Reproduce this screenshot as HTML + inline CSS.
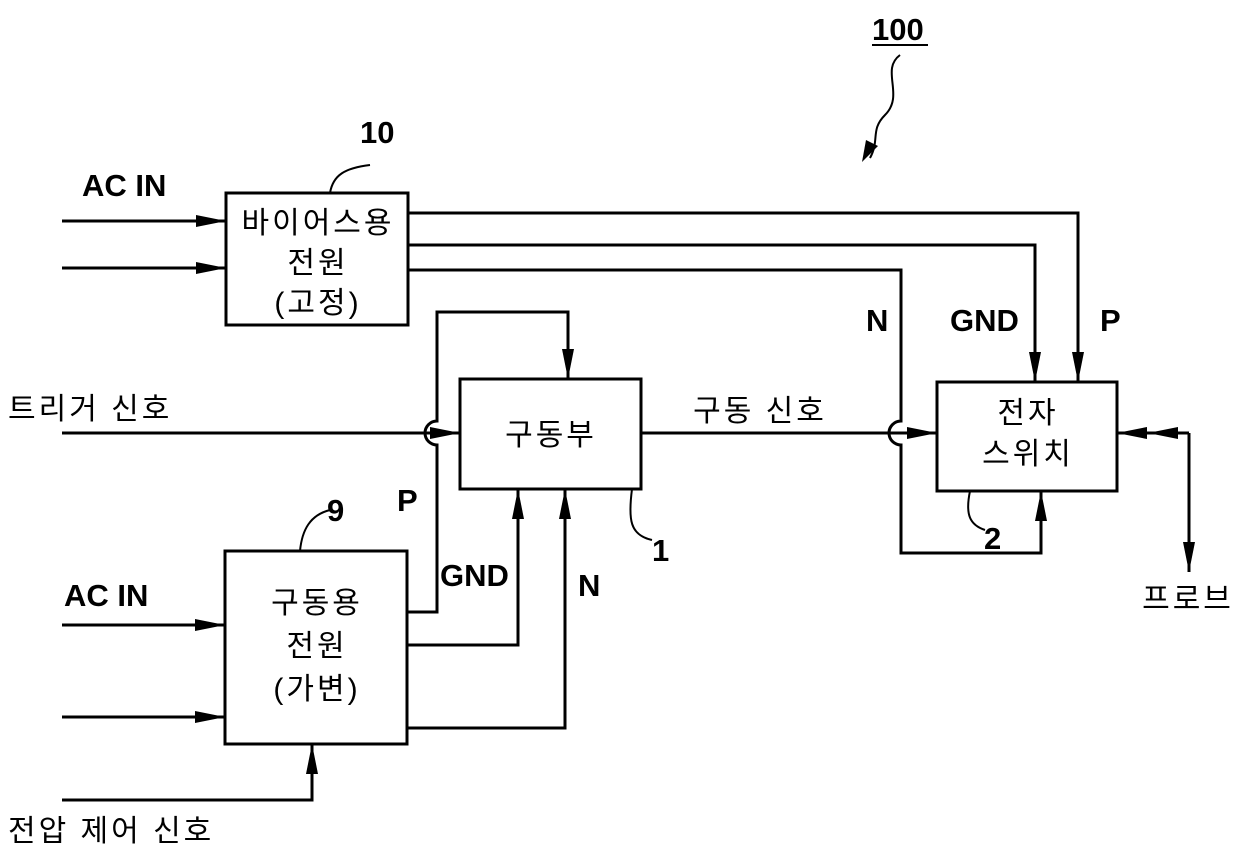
<!DOCTYPE html>
<html><head><meta charset="utf-8"><style>
html,body{margin:0;padding:0;background:#fff;}
svg text{font-family:"Liberation Sans","Noto Sans CJK KR",sans-serif;fill:#000;}
</style></head><body>
<svg width="1240" height="851" viewBox="0 0 1240 851" xmlns="http://www.w3.org/2000/svg">
<defs>
<marker id="A" markerWidth="30" markerHeight="12" refX="30" refY="6" orient="auto" markerUnits="userSpaceOnUse" viewBox="0 0 30 12">
<path d="M0,0 L30,6 L0,12 Z" fill="#000"/></marker>
</defs>
<g fill="none" stroke="#000" stroke-width="3">
<rect x="226" y="193" width="182" height="132"/>
<rect x="460" y="379" width="181" height="110"/>
<rect x="937" y="382" width="180" height="109"/>
<rect x="225" y="551" width="182" height="193"/>
<line x1="62" y1="221" x2="226" y2="221" marker-end="url(#A)"/>
<line x1="62" y1="268" x2="226" y2="268" marker-end="url(#A)"/>
<polyline points="408,213 1078,213 1078,382" marker-end="url(#A)"/>
<polyline points="408,245 1035,245 1035,382" marker-end="url(#A)"/>
<path d="M408,270 L901,270 L901,421 A12,12 0 0 0 901,445 L901,553 L1041,553 L1041,491" marker-end="url(#A)"/>
<line x1="62" y1="433" x2="460" y2="433" marker-end="url(#A)"/>
<line x1="641" y1="433" x2="937" y2="433" marker-end="url(#A)"/>
<path d="M407,612 L437,612 L437,445 A12,12 0 0 1 437,421 L437,312 L568,312 L568,379" marker-end="url(#A)"/>
<polyline points="407,645 518,645 518,489" marker-end="url(#A)"/>
<polyline points="407,728 565,728 565,489" marker-end="url(#A)"/>
<line x1="1189" y1="433" x2="1117" y2="433" marker-end="url(#A)"/>
<line x1="1189" y1="433" x2="1148" y2="433" marker-end="url(#A)"/>
<line x1="1189" y1="433" x2="1189" y2="572" marker-end="url(#A)"/>
<line x1="62" y1="625" x2="225" y2="625" marker-end="url(#A)"/>
<line x1="62" y1="717" x2="225" y2="717" marker-end="url(#A)"/>
<polyline points="62,800 312,800 312,744" marker-end="url(#A)"/>
<path stroke-width="2" d="M330,193 C333,175 345,168 370,165"/>
<path stroke-width="2" d="M300,551 C302,530 310,515 330,510"/>
<path stroke-width="2" d="M632,489 C628,520 630,535 652,540"/>
<path stroke-width="2" d="M970,491 C965,515 970,525 985,530"/>
<path stroke-width="2" d="M900,55 C880,70 905,95 885,115 C870,130 880,140 870,158"/>
<line x1="872" y1="45" x2="928" y2="45" stroke-width="2"/>
</g>
<path d="M862,162 L866,140 L878,146 Z" fill="#000"/>
<g font-size="30" text-anchor="middle" letter-spacing="3">
<text x="318" y="233">바이어스용</text>
<text x="318" y="273">전원</text>
<text x="318" y="313">(고정)</text>
<text x="551" y="445">구동부</text>
<text x="1028" y="423">전자</text>
<text x="1028" y="464">스위치</text>
<text x="317" y="613">구동용</text>
<text x="317" y="656">전원</text>
<text x="317" y="699">(가변)</text>
<text x="760" y="421">구동 신호</text>
<text x="1188" y="609">프로브</text>
</g>
<g font-size="30" letter-spacing="3">
<text x="8" y="419">트리거 신호</text>
<text x="8" y="841">전압 제어 신호</text>
</g>
<g font-size="31" font-weight="bold">
<text x="82" y="196">AC IN</text>
<text x="64" y="606">AC IN</text>
<text x="866" y="331">N</text>
<text x="950" y="331">GND</text>
<text x="1100" y="331">P</text>
<text x="397" y="511">P</text>
<text x="440" y="586">GND</text>
<text x="578" y="596">N</text>
<text x="360" y="143">10</text>
<text x="327" y="521">9</text>
<text x="652" y="561">1</text>
<text x="984" y="549">2</text>
<text x="872" y="40">100</text>
</g>
</svg>
</body></html>
